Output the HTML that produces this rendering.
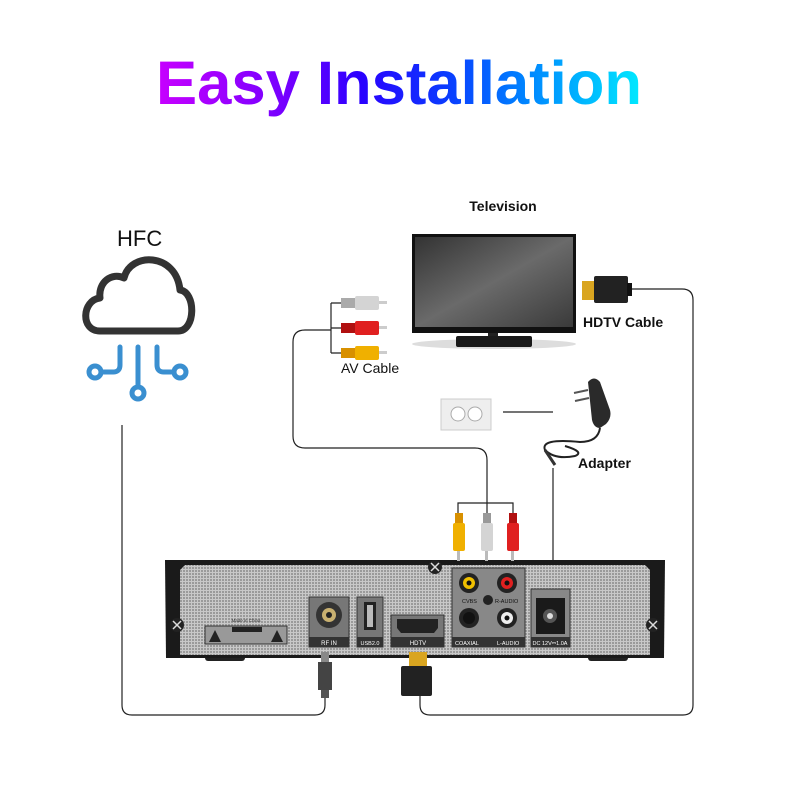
<!DOCTYPE html>
<html><head><style>body{margin:0;background:#fff}svg{display:block}text{font-family:"Liberation Sans",Arial,sans-serif}</style></head>
<body>
<svg width="800" height="800" viewBox="0 0 800 800" xmlns="http://www.w3.org/2000/svg">
<defs>
<linearGradient id="tg" x1="156" y1="0" x2="642" y2="0" gradientUnits="userSpaceOnUse">
<stop offset="0" stop-color="#c800ff"/><stop offset="0.3" stop-color="#6a00ff"/><stop offset="0.42" stop-color="#2a00ff"/><stop offset="0.6" stop-color="#0a3cff"/><stop offset="0.75" stop-color="#0080ff"/><stop offset="1" stop-color="#00eaff"/>
</linearGradient>
<pattern id="mesh" width="3" height="3" patternUnits="userSpaceOnUse"><rect width="3" height="3" fill="#c8c8c8"/><rect width="2" height="2" fill="#9a9a9a"/></pattern>
<linearGradient id="scr" x1="0" y1="0" x2="1" y2="1"><stop offset="0" stop-color="#333"/><stop offset="0.5" stop-color="#6a6a6a"/><stop offset="1" stop-color="#3a3a3a"/></linearGradient>
</defs>
<text x="156" y="104" font-size="61" font-weight="bold" fill="url(#tg)" textLength="486" lengthAdjust="spacingAndGlyphs">Easy Installation</text>

<!-- HFC -->
<text x="117" y="246" font-size="22" fill="#111">HFC</text>
<path d="M100,331 C80,331 82,300 100,298 C98,282 112,272 124,278 C130,252 176,252 180,290 C196,292 196,331 178,331 Z" fill="none" stroke="#333" stroke-width="7" stroke-linejoin="round"/>
<g fill="none" stroke="#3a8fd0" stroke-width="5" stroke-linecap="round">
<path d="M120,347 V365 Q120,372 113,372 H101"/>
<circle cx="95" cy="372" r="6"/>
<path d="M138,347 V386"/>
<circle cx="138" cy="393" r="6"/>
<path d="M157,347 V365 Q157,372 164,372 H174"/>
<circle cx="180" cy="372" r="6"/>
</g>

<!-- TV -->
<text x="503" y="211" font-size="14" font-weight="bold" text-anchor="middle" fill="#111">Television</text>
<ellipse cx="494" cy="344" rx="82" ry="5" fill="#ddd"/>
<rect x="412" y="234" width="164" height="99" fill="#111"/>
<rect x="415" y="237" width="158" height="90" fill="url(#scr)"/>
<rect x="488" y="333" width="10" height="4" fill="#222"/>
<rect x="456" y="336" width="76" height="11" rx="2" fill="#1a1a1a"/>

<!-- HDMI plug top -->
<rect x="582" y="281" width="12" height="19" fill="#d9a520"/>
<rect x="594" y="276" width="34" height="27" rx="2" fill="#222"/>
<rect x="627" y="283" width="5" height="13" fill="#111"/>
<text x="583" y="327" font-size="14" font-weight="bold" fill="#111">HDTV Cable</text>

<!-- AV plugs -->
<g>
<rect x="341" y="298" width="14" height="10" fill="#aaa"/><rect x="355" y="296" width="24" height="14" rx="2" fill="#d4d4d4"/><rect x="379" y="301" width="8" height="3" fill="#ccc"/>
<rect x="341" y="323" width="14" height="10" fill="#b01010"/><rect x="355" y="321" width="24" height="14" rx="2" fill="#e02020"/><rect x="379" y="326" width="8" height="3" fill="#ccc"/>
<rect x="341" y="348" width="14" height="10" fill="#d89000"/><rect x="355" y="346" width="24" height="14" rx="2" fill="#f0b000"/><rect x="379" y="351" width="8" height="3" fill="#ccc"/>
</g>
<text x="341" y="373" font-size="14" fill="#111">AV Cable</text>

<!-- outlet -->
<rect x="441" y="399" width="50" height="31" fill="#eee" stroke="#ccc"/>
<circle cx="458" cy="414" r="7" fill="#fff" stroke="#aaa"/><circle cx="475" cy="414" r="7" fill="#fff" stroke="#aaa"/>
<!-- adapter -->
<path d="M588,382 Q594,375 600,382 L610,410 Q612,418 606,424 L600,428 Q594,428 592,420 Z" fill="#2a2a2a"/>
<line x1="574" y1="393" x2="588" y2="390" stroke="#555" stroke-width="2"/>
<line x1="575" y1="401" x2="589" y2="398" stroke="#555" stroke-width="2"/>
<path d="M600,428 Q598,442 580,442 Q540,438 545,450 Q555,460 575,456 Q585,452 565,446" fill="none" stroke="#222" stroke-width="2"/>
<line x1="545" y1="450" x2="555" y2="465" stroke="#333" stroke-width="3"/>
<text x="578" y="468" font-size="14" font-weight="bold" fill="#111">Adapter</text>

<!-- connector lines -->
<g fill="none" stroke="#222" stroke-width="1.2">
<path d="M331,303 V353 M331,303 H341 M331,328 H341 M331,353 H341"/>
<path d="M331,330 H305 Q293,330 293,342 V436 Q293,448 305,448 H475 Q487,448 487,460 V514"/>
<path d="M458,514 V503 H513 V514"/>
<path d="M503,412 H553"/>
<path d="M553,468 V590"/>
<path d="M632,289 H682 Q693,289 693,300 V705 Q693,715 683,715 H430 Q420,715 420,705 V695"/>
<path d="M122,425 V705 Q122,715 132,715 H315 Q325,715 325,705 V697"/>
</g>

<!-- Box -->
<rect x="205" y="655" width="40" height="6" rx="3" fill="#222"/><rect x="588" y="655" width="40" height="6" rx="3" fill="#222"/>
<path d="M165,560 H665 L664,658 H166 Z" fill="#1a1a1a"/>
<path d="M180,570 L185,565 H645 L650,570 V655 H180 Z" fill="url(#mesh)"/>
<g stroke="#ddd" stroke-width="1.5">
<circle cx="177" cy="625" r="7" fill="#222" stroke="none"/><path d="M173,621 L181,629 M181,621 L173,629"/>
<circle cx="653" cy="625" r="7" fill="#222" stroke="none"/><path d="M649,621 L657,629 M657,621 L649,629"/>
<circle cx="435" cy="567" r="7" fill="#222" stroke="none"/><path d="M431,563 L439,571 M439,563 L431,571"/>
</g>
<!-- caution label -->
<text x="246" y="622" font-size="4.5" fill="#333" text-anchor="middle">Made in China</text>
<rect x="205" y="626" width="82" height="18" fill="#999" stroke="#333"/>
<rect x="232" y="627" width="30" height="5" fill="#222"/>
<polygon points="209,642 215,630 221,642" fill="#222"/><polygon points="271,642 277,630 283,642" fill="#222"/>
<!-- RF IN -->
<rect x="309" y="597" width="40" height="50" fill="#777" stroke="#333"/><rect x="309" y="637" width="40" height="10" fill="#333"/>
<text x="329" y="645" font-size="6" fill="#fff" text-anchor="middle">RF IN</text>
<circle cx="329" cy="615" r="13" fill="#333"/><circle cx="329" cy="615" r="7" fill="#c8b070"/><circle cx="329" cy="615" r="3" fill="#222"/>
<!-- USB -->
<rect x="357" y="597" width="26" height="50" fill="#777" stroke="#333"/><rect x="357" y="637" width="26" height="10" fill="#333"/>
<text x="370" y="645" font-size="5.5" fill="#fff" text-anchor="middle">USB2.0</text>
<rect x="364" y="602" width="12" height="28" fill="#222"/><rect x="367" y="605" width="6" height="22" fill="#bbb"/>
<!-- HDTV -->
<rect x="391" y="615" width="53" height="32" fill="#777" stroke="#333"/><rect x="391" y="637" width="53" height="10" fill="#333"/>
<text x="418" y="645" font-size="6" fill="#fff" text-anchor="middle">HDTV</text>
<path d="M397,619 H438 V628 L434,633 H401 L397,628 Z" fill="#222"/>
<!-- AV panel -->
<rect x="452" y="568" width="73" height="79" fill="#888" stroke="#333"/><rect x="452" y="637" width="73" height="10" fill="#333"/>
<circle cx="469" cy="583" r="10" fill="#222"/><circle cx="469" cy="583" r="6" fill="#f0c000"/><circle cx="469" cy="583" r="2.5" fill="#111"/>
<circle cx="507" cy="583" r="10" fill="#222"/><circle cx="507" cy="583" r="6" fill="#e02020"/><circle cx="507" cy="583" r="2.5" fill="#111"/>
<circle cx="469" cy="618" r="10" fill="#222"/><circle cx="469" cy="618" r="6" fill="#111"/>
<circle cx="507" cy="618" r="10" fill="#222"/><circle cx="507" cy="618" r="6" fill="#eee"/><circle cx="507" cy="618" r="2.5" fill="#111"/>
<circle cx="488" cy="600" r="5" fill="#222"/>
<text x="462" y="603" font-size="5.5" fill="#111">CVBS</text><text x="495" y="603" font-size="5.5" fill="#111">R-AUDIO</text>
<text x="455" y="645" font-size="5.5" fill="#fff">COAXIAL</text><text x="497" y="645" font-size="5.5" fill="#fff">L-AUDIO</text>
<!-- DC -->
<rect x="531" y="589" width="39" height="58" fill="#888" stroke="#333"/><rect x="531" y="637" width="39" height="10" fill="#333"/>
<rect x="536" y="598" width="29" height="36" fill="#1a1a1a"/><circle cx="550" cy="616" r="7" fill="#555"/><circle cx="550" cy="616" r="3" fill="#ddd"/>
<text x="550" y="645" font-size="5.5" fill="#fff" text-anchor="middle">DC 12V⎓1.0A</text>
<!-- RCA plugs at box -->
<g>
<rect x="455" y="513" width="8" height="10" fill="#d89000"/><rect x="453" y="523" width="12" height="28" rx="2" fill="#f0b000"/><rect x="457" y="551" width="3" height="10" fill="#bbb"/>
<rect x="483" y="513" width="8" height="10" fill="#999"/><rect x="481" y="523" width="12" height="28" rx="2" fill="#d4d4d4"/><rect x="485" y="551" width="3" height="10" fill="#bbb"/>
<rect x="509" y="513" width="8" height="10" fill="#b01010"/><rect x="507" y="523" width="12" height="28" rx="2" fill="#e02020"/><rect x="511" y="551" width="3" height="10" fill="#bbb"/>
</g>
<!-- cables below box -->
<rect x="321" y="652" width="8" height="12" fill="#888"/><rect x="318" y="662" width="14" height="28" fill="#444"/><rect x="321" y="690" width="8" height="8" fill="#555"/>
<rect x="409" y="652" width="18" height="14" fill="#d9a520"/><rect x="401" y="666" width="31" height="30" rx="2" fill="#222"/>
</svg>
</body></html>
